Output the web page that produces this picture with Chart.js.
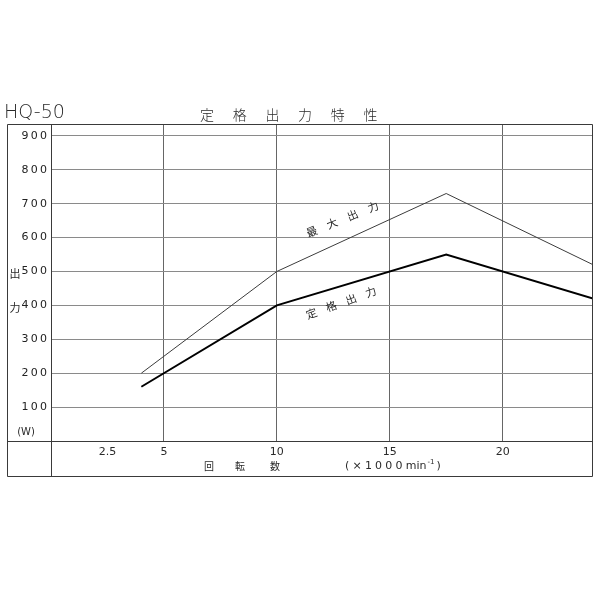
<!DOCTYPE html>
<html>
<head>
<meta charset="utf-8">
<script src="https://cdn.jsdelivr.net/npm/chart.js@4/dist/chart.umd.min.js"></script>
<style>
  html, body { margin: 0; padding: 0; background: #ffffff; }
  #wrap { width: 600px; height: 600px; }
</style>
</head>
<body>
<div id="wrap"><canvas id="c" width="600" height="600"></canvas></div>
<script>
// ---- data ----
const rpm = [4, 10, 17.5, 24];                 // ×1000 min^-1
const maxOutput = [200, 500, 730, 520];        // 最大出力 (W)
const ratedOutput = [160, 400, 550, 420];      // 定格出力 (W)
const xTickValues = [2.5, 5, 10, 15, 20];
const xGridValues = [5, 10, 15, 20];
const yTickValues = [100, 200, 300, 400, 500, 600, 700, 800, 900];
const modelName = 'HQ-50';
const chartTitle = ['定', '格', '出', '力', '特', '性'];
const yTitle = ['出', '力'];
const yUnit = '(W)';
const xTitleChars = ['回', '転', '数'];
const xUnitParts = ['(×1000', 'min', '-1', ')'];
const maxLabel = ['最', '大', '出', '力'];
const ratedLabel = ['定', '格', '出', '力'];

const CJK = '"Noto Sans CJK JP", "Noto Sans", sans-serif';
const LAT = '"DejaVu Sans", "Liberation Sans", sans-serif';

const toPts = (xs, ys) => xs.map((x, i) => ({ x: x, y: ys[i] }));

const decor = {
  id: 'decor',
  afterDraw(chart) {
    const ctx = chart.ctx;
    const a = chart.chartArea;
    const xs = chart.scales.x, ys = chart.scales.y;
    const frameL = 7, frameR = a.right, frameT = a.top, frameB = 476;
    ctx.save();
    // outer frame
    ctx.strokeStyle = '#3a3a3a';
    ctx.lineWidth = 1;
    ctx.beginPath();
    ctx.rect(frameL + 0.5, frameT + 0.5, frameR - frameL - 1, frameB - frameT);
    ctx.moveTo(frameL, Math.round(a.bottom) + 0.5);
    ctx.lineTo(frameR, Math.round(a.bottom) + 0.5);
    ctx.moveTo(Math.round(a.left) + 0.5, frameT);
    ctx.lineTo(Math.round(a.left) + 0.5, frameB);
    ctx.stroke();

    // titles
    ctx.fillStyle = '#2a2a2a';
    ctx.textBaseline = 'middle';
    ctx.textAlign = 'left';
    ctx.font = '300 19px ' + LAT;
    ctx.fillText(modelName, 4, 113);
    ctx.textAlign = 'center';
    ctx.font = '300 14px ' + CJK;
    chartTitle.forEach((ch, i) => ctx.fillText(ch, 207 + i * 32.7, 115));

    // y-axis title and unit
    ctx.font = '11px ' + CJK;
    ctx.fillText(yTitle[0], 15, ys.getPixelForValue(500) + 2);
    ctx.fillText(yTitle[1], 15, ys.getPixelForValue(400) + 2);
    ctx.font = '10px ' + LAT;
    ctx.fillText(yUnit, 26, 432);

    // x-axis title
    ctx.font = '10px ' + CJK;
    const xt = [209, 240, 275];
    xTitleChars.forEach((ch, i) => ctx.fillText(ch, xt[i], 466));
    ctx.textAlign = 'left';
    let px = 345;
    ctx.font = '11px ' + LAT;
    try { ctx.letterSpacing = '3.2px'; } catch (e) {}
    ctx.fillText(xUnitParts[0], px, 466);
    px += ctx.measureText(xUnitParts[0]).width;
    try { ctx.letterSpacing = '0px'; } catch (e) {}
    ctx.fillText(xUnitParts[1], px, 466);
    px += ctx.measureText(xUnitParts[1]).width + 1;
    ctx.font = '7px ' + LAT;
    ctx.fillText(xUnitParts[2], px, 462);
    px += ctx.measureText(xUnitParts[2]).width + 2;
    ctx.font = '11px ' + LAT;
    ctx.fillText(xUnitParts[3], px, 466);

    // curve labels
    ctx.textAlign = 'center';
    ctx.font = '11px ' + CJK;
    const drawRot = (chars, cx, cy, ang, step) => {
      ctx.save();
      ctx.translate(cx, cy);
      ctx.rotate(ang);
      const n = chars.length;
      chars.forEach((ch, i) => ctx.fillText(ch, (i - (n - 1) / 2) * step, 0));
      ctx.restore();
    };
    drawRot(maxLabel, xs.getPixelForValue(12.9), ys.getPixelForValue(654), -22 * Math.PI / 180, 22);
    drawRot(ratedLabel, xs.getPixelForValue(12.85), ys.getPixelForValue(408), -20 * Math.PI / 180, 21);
    ctx.restore();
  }
};

new Chart(document.getElementById('c'), {
  type: 'line',
  data: {
    datasets: [
      {
        label: '最大出力',
        data: toPts(rpm, maxOutput),
        borderColor: '#3c3c3c',
        borderWidth: 1,
        pointRadius: 0,
        tension: 0,
        fill: false
      },
      {
        label: '定格出力',
        data: toPts(rpm, ratedOutput),
        borderColor: '#000000',
        borderWidth: 2,
        pointRadius: 0,
        tension: 0,
        fill: false
      }
    ]
  },
  options: {
    responsive: false,
    animation: false,
    devicePixelRatio: 1,
    layout: { padding: { top: 124, left: 0, right: 7, bottom: 124 } },
    plugins: { legend: { display: false }, tooltip: { enabled: false }, title: { display: false } },
    scales: {
      x: {
        type: 'linear',
        min: 0,
        max: 24,
        afterBuildTicks: (s) => { s.ticks = xTickValues.map(v => ({ value: v })); },
        afterFit: (s) => { s.height = 35; },
        grid: {
          color: (c) => (c.tick && xGridValues.includes(c.tick.value)) ? '#666666' : 'rgba(0,0,0,0)',
          lineWidth: 1,
          drawTicks: false
        },
        border: { display: false },
        ticks: {
          autoSkip: false,
          maxRotation: 0,
          padding: 5,
          color: '#2a2a2a',
          font: { family: 'DejaVu Sans', size: 11 },
          callback: (v) => String(v)
        }
      },
      y: {
        type: 'linear',
        min: 0,
        max: 935,
        afterBuildTicks: (s) => { s.ticks = yTickValues.map(v => ({ value: v })); },
        afterFit: (s) => { s.width = 51; },
        grid: { color: '#8a8a8a', lineWidth: 1, drawTicks: false },
        border: { display: false },
        ticks: {
          padding: 4,
          color: '#222222',
          font: { family: 'DejaVu Sans', size: 11 },
          callback: (v) => String(v).split('').join('\u2009')
        }
      }
    }
  },
  plugins: [decor]
});
</script>
</body>
</html>
